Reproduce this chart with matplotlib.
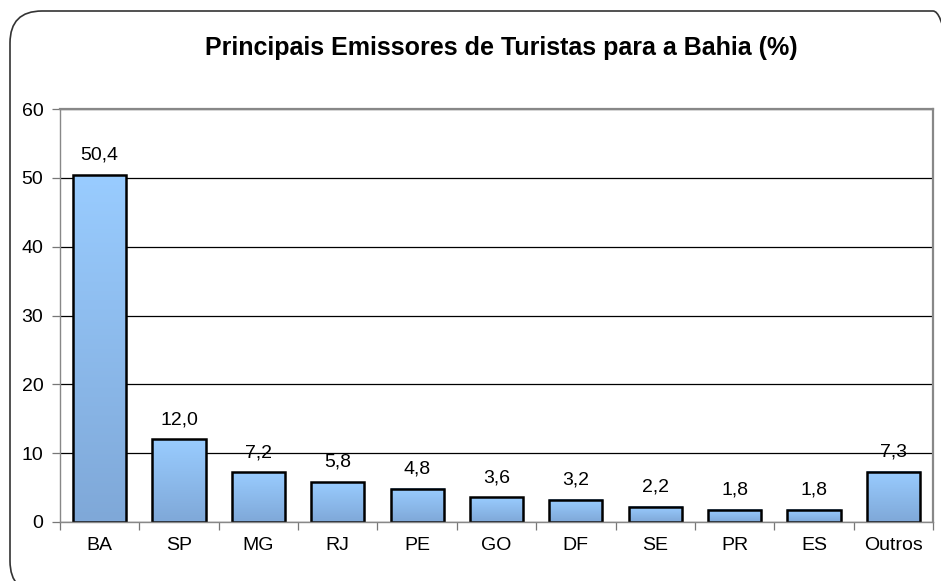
import matplotlib
matplotlib.use("Agg")
import matplotlib.pyplot as plt
import numpy as np
from matplotlib.patches import FancyBboxPatch
from matplotlib.colors import LinearSegmentedColormap

categories = ["BA", "SP", "MG", "RJ", "PE", "GO", "DF", "SE", "PR", "ES", "Outros"]
values = [50.4, 12.0, 7.2, 5.8, 4.8, 3.6, 3.2, 2.2, 1.8, 1.8, 7.3]
y_ticks = [0, 10, 20, 30, 40, 50, 60]
title = "Principais Emissores de Turistas para a Bahia (%)"

plt.rcParams["font.family"] = ["Liberation Sans", "DejaVu Sans"]

W, H = 941, 581
fig = plt.figure(figsize=(W / 100, H / 100), dpi=100)
fig.patch.set_facecolor("white")

# rounded chart frame (runs past the right and bottom edges)
frame = FancyBboxPatch((10 / W, -12 / H), 955 / W, 582 / H,
                       boxstyle="round,pad=0,rounding_size=0.034",
                       transform=fig.transFigure, fill=False,
                       edgecolor="#333333", linewidth=1.2,
                       mutation_aspect=W / H)
fig.patches.append(frame)

ax = fig.add_axes([60 / W, (H - 522) / H, 873 / W, 413 / H])
x = np.arange(len(categories))
bars = ax.bar(x, values, width=0.67, facecolor="none", edgecolor="black",
              linewidth=1.8, zorder=3)

cmap = LinearSegmentedColormap.from_list("barfill", ["#7FA8D8", "#99CCFF"])
grad = np.linspace(0, 1, 256).reshape(-1, 1)
for b in bars:
    x0, w, h = b.get_x(), b.get_width(), b.get_height()
    ax.imshow(grad, extent=[x0, x0 + w, 0, h], origin="lower", cmap=cmap,
              aspect="auto", zorder=2, interpolation="bicubic")

for xi, v in zip(x, values):
    ax.annotate(f"{v:.1f}".replace(".", ","), (xi, v), xytext=(0, 8),
                textcoords="offset points", ha="center", va="bottom",
                fontsize=14, color="black")

ax.set_xlim(-0.5, len(categories) - 0.5)
ax.set_ylim(0, 60)
ax.set_yticks(y_ticks)
ax.yaxis.grid(True, color="black", linewidth=0.9, zorder=1)
ax.set_axisbelow(True)
ax.tick_params(axis="y", length=6, width=0.9, color="#777777", labelsize=14, pad=6)

ax.set_xticks(x)
ax.set_xticklabels(categories, fontsize=14)
ax.tick_params(axis="x", length=0, pad=11)
ax.set_xticks(np.arange(-0.5, len(categories) + 0.5, 1), minor=True)
ax.tick_params(axis="x", which="minor", length=6, width=0.9, color="#777777")

for s in ["top", "right", "left", "bottom"]:
    ax.spines[s].set_color("#888888")
    ax.spines[s].set_linewidth(1.6 if s in ("top", "right") else 1.0)
    ax.spines[s].set_zorder(4)

fig.text(501 / W, 1 - 48 / H, title, ha="center", va="center",
         fontsize=18, fontweight="bold")

fig.savefig("out.png", dpi=100)
